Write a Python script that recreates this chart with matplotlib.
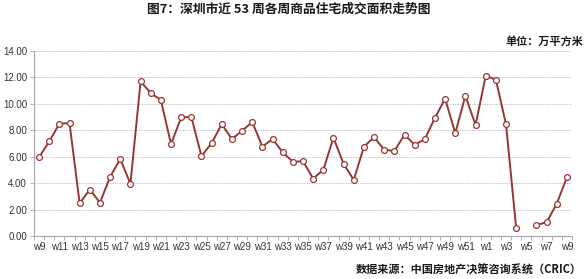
import numpy as np
import matplotlib
matplotlib.use("Agg")
import matplotlib.pyplot as plt
from matplotlib.ticker import FixedLocator

weeks = [f"w{i}" for i in range(9, 53)] + [f"w{i}" for i in range(1, 10)]
values = [5.95, 7.14, 8.48, 8.53, 2.47, 3.51, 2.52, 4.47, 5.83, 3.94,
          11.68, 10.80, 10.27, 6.94, 8.96, 9.00, 6.03, 7.02, 8.45, 7.32,
          7.95, 8.61, 6.76, 7.32, 6.33, 5.60, 5.65, 4.34, 5.00, 7.42,
          5.45, 4.24, 6.74, 7.47, 6.51, 6.43, 7.65, 6.89, 7.32, 8.93,
          10.37, 7.77, 10.60, 8.38, 12.11, 11.81, 8.43, 0.61, np.nan, 0.83,
          1.04, 2.45, 4.44]
yticks = [0, 2, 4, 6, 8, 10, 12, 14]

cjk = ['Noto Sans CJK SC', 'DejaVu Sans']
lat = ['Liberation Sans', 'DejaVu Sans']

fig = plt.figure(figsize=(5.88, 2.79), dpi=100)
ax = fig.add_axes([0.0578, 0.1541, 0.915, 0.6642])

x = np.arange(len(weeks))
ax.plot(x, values, color='#953735', lw=1.4, marker='o', ms=4.2,
        mfc='white', mec='#953735', mew=0.9, zorder=3)

ax.set_xlim(-0.5, len(weeks) - 0.5)
ax.set_ylim(0, 14)
ax.set_yticks(yticks)
ax.set_yticklabels([f"{v:.2f}" for v in yticks], fontfamily=lat, fontsize=7, color='#333333')
ax.set_xticks(x[::2])
ax.set_xticklabels(weeks[::2], fontfamily=lat, fontsize=7, color='#333333')
ax.xaxis.set_minor_locator(FixedLocator(np.arange(-0.5, len(weeks), 1)))
ax.tick_params(axis='x', which='major', length=0, pad=4)
ax.tick_params(axis='x', which='minor', length=3, color='#A6A6A6', width=0.6)
ax.tick_params(axis='y', length=3, color='#A6A6A6', width=0.6, pad=2)

ax.grid(axis='y', color='#C8C8C8', lw=0.7, ls=(0, (1.5, 1)))
ax.set_axisbelow(True)
for s in ['top', 'right']:
    ax.spines[s].set_visible(False)
for s in ['left', 'bottom']:
    ax.spines[s].set_color('#A6A6A6')
    ax.spines[s].set_linewidth(0.8)

fig.text(0.4915, 0.966, "图7：深圳市近 53 周各周商品住宅成交面积走势图", ha='center', va='center',
         fontfamily=cjk, fontsize=9.2, fontweight='bold', color='#1a1a1a')
fig.text(0.992, 0.853, "单位：万平方米", ha='right', va='center',
         fontfamily=cjk, fontsize=8, fontweight='bold', color='#1a1a1a')
fig.text(0.99, 0.032, "数据来源：中国房地产决策咨询系统（CRIC）", ha='right', va='center',
         fontfamily=cjk, fontsize=8, fontweight='bold', color='#1a1a1a')

fig.savefig("out.png", dpi=100)
